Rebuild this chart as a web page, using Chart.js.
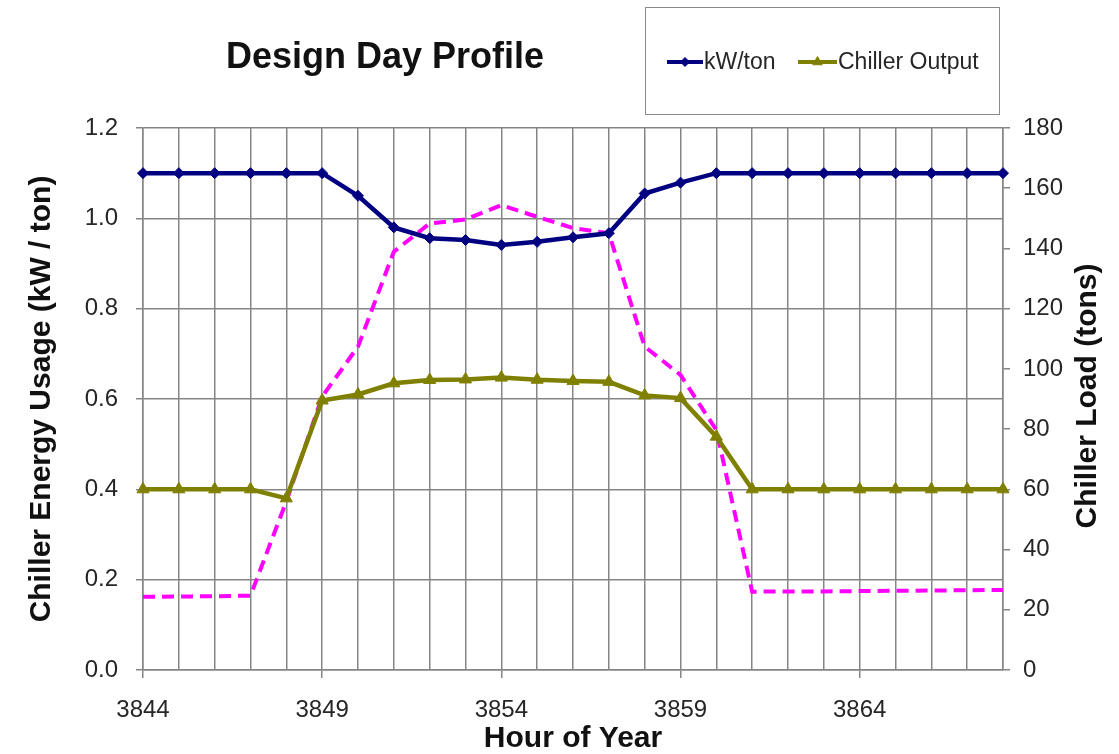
<!DOCTYPE html>
<html>
<head>
<meta charset="utf-8">
<title>Design Day Profile</title>
<script src="https://cdn.jsdelivr.net/npm/chart.js@4.4.1/dist/chart.umd.min.js"></script>
<style>
  html, body { margin: 0; padding: 0; background: #ffffff; }
  #wrap { position: relative; width: 1119px; height: 754px; }
</style>
</head>
<body>
<div id="wrap"><canvas id="chart"></canvas></div>
<script>
// Hour-of-year categories along the x axis
const hours = [3844, 3845, 3846, 3847, 3848, 3849, 3850, 3851, 3852, 3853, 3854, 3855, 3856,
               3857, 3858, 3859, 3860, 3861, 3862, 3863, 3864, 3865, 3866, 3867, 3868];

// Chiller efficiency (kW per ton), left axis
const kwPerTon = [1.10, 1.10, 1.10, 1.10, 1.10, 1.10, 1.05, 0.98, 0.956, 0.952, 0.941, 0.948, 0.958,
                  0.967, 1.055, 1.079, 1.10, 1.10, 1.10, 1.10, 1.10, 1.10, 1.10, 1.10, 1.10];

// Chiller output (tons), right axis
const chillerOutput = [60, 60, 60, 60, 57, 89.5, 91.5, 95.2, 96.3, 96.5, 97.1, 96.4, 96,
                       95.7, 91.2, 90.3, 77.5, 60, 60, 60, 60, 60, 60, 60, 60];

// Building cooling load (tons), right axis, dashed
const chillerLoad = [24.3, 24.4, 24.5, 24.7, 56, 90.8, 107.4, 138.9, 148.3, 149.6, 154.4, 150.5, 146.8,
                     145, 107.4, 98, 79.7, 26, 26.1, 26.1, 26.2, 26.3, 26.4, 26.5, 26.6];

// Axis tick values
const leftTicks = [0, 0.2, 0.4, 0.6, 0.8, 1.0, 1.2];
const rightTicks = [0, 20, 40, 60, 80, 100, 120, 140, 160, 180];

const FONT = "'Liberation Sans', Arial, Helvetica, sans-serif";
const GRID = '#858585';
const TEXT = '#262626';

// Title, boxed legend and right-hand axis title
const decorations = {
  id: 'decorations',
  afterDraw(chart) {
    const ctx = chart.ctx;
    ctx.save();

    // Chart title
    ctx.fillStyle = '#111';
    ctx.font = 'bold 36px ' + FONT;
    ctx.textAlign = 'center';
    ctx.textBaseline = 'alphabetic';
    ctx.fillText('Design Day Profile', 385, 68);

    // Legend frame
    ctx.strokeStyle = '#8a8a8a';
    ctx.lineWidth = 1;
    ctx.strokeRect(645.5, 7.5, 354, 107);

    // Legend entries (first two datasets)
    const entries = [
      { ds: chart.data.datasets[0], x0: 667, x1: 703, tx: 704, r: 4.5 },
      { ds: chart.data.datasets[1], x0: 798, x1: 837, tx: 838, r: 5.5 }
    ];
    const ly = 62;
    ctx.font = '23px ' + FONT;
    ctx.textAlign = 'left';
    ctx.textBaseline = 'middle';
    entries.forEach(e => {
      ctx.strokeStyle = e.ds.borderColor;
      ctx.lineWidth = 4;
      ctx.beginPath();
      ctx.moveTo(e.x0, ly);
      ctx.lineTo(e.x1, ly);
      ctx.stroke();
      ctx.fillStyle = e.ds.borderColor;
      ctx.lineWidth = 1;
      Chart.helpers.drawPoint(ctx, {
        pointStyle: e.ds.pointStyle,
        radius: e.r,
        borderWidth: 1
      }, (e.x0 + e.x1) / 2, ly);
      ctx.fillStyle = TEXT;
      ctx.fillText(e.ds.label, e.tx, ly + 1);
    });

    // Right axis title, reading bottom to top
    ctx.save();
    ctx.translate(1088, 396);
    ctx.rotate(-Math.PI / 2);
    ctx.font = 'bold 30px ' + FONT;
    ctx.fillStyle = '#111';
    ctx.textAlign = 'center';
    ctx.textBaseline = 'middle';
    ctx.fillText('Chiller Load (tons)', 0, 0);
    ctx.restore();

    ctx.restore();
  }
};

new Chart(document.getElementById('chart'), {
  type: 'line',
  data: {
    labels: hours,
    datasets: [
      {
        label: 'kW/ton',
        data: kwPerTon,
        yAxisID: 'y',
        borderColor: '#000080',
        backgroundColor: '#000080',
        borderWidth: 4.5,
        pointStyle: 'rectRot',
        pointRadius: 5.5,
        pointBorderWidth: 1,
        pointBackgroundColor: '#000080',
        pointBorderColor: '#000080',
        tension: 0
      },
      {
        label: 'Chiller Output',
        data: chillerOutput,
        yAxisID: 'y1',
        borderColor: '#808000',
        backgroundColor: '#808000',
        borderWidth: 4.5,
        pointStyle: 'triangle',
        pointRadius: 7,
        pointBorderWidth: 1,
        pointBackgroundColor: '#808000',
        pointBorderColor: '#808000',
        tension: 0
      },
      {
        label: 'Chiller Load',
        data: chillerLoad,
        yAxisID: 'y1',
        borderColor: '#ff00ff',
        backgroundColor: '#ff00ff',
        borderWidth: 4,
        borderDash: [12, 7],
        pointRadius: 0,
        tension: 0
      }
    ]
  },
  options: {
    responsive: true,
    maintainAspectRatio: false,
    animation: false,
    layout: { padding: { top: 128, left: 0, right: 0, bottom: 0 } },
    plugins: {
      legend: { display: false },
      title: { display: false },
      tooltip: { enabled: false }
    },
    scales: {
      x: {
        type: 'category',
        offset: false,
        grid: {
          color: GRID,
          lineWidth: 1.5,
          tickLength: 8,
          tickColor: (c) => (c.index % 5 === 0 ? GRID : 'rgba(0,0,0,0)')
        },
        border: { color: GRID, width: 1.5 },
        ticks: {
          autoSkip: false,
          maxRotation: 0,
          minRotation: 0,
          padding: 18,
          color: TEXT,
          font: { family: FONT, size: 24 },
          callback: function (value, index) {
            return index % 5 === 0 ? String(hours[index]) : '';
          }
        },
        title: {
          display: true,
          text: 'Hour of Year',
          color: '#111',
          font: { family: FONT, size: 30, weight: 'bold', lineHeight: 1.0 },
          padding: { top: 0, bottom: 0 }
        },
        afterFit(scale) { scale.height = 84; }
      },
      y: {
        position: 'left',
        min: leftTicks[0],
        max: leftTicks[leftTicks.length - 1],
        afterBuildTicks(scale) { scale.ticks = leftTicks.map(v => ({ value: v })); },
        grid: { color: GRID, lineWidth: 1.5, tickLength: 7 },
        border: { color: GRID, width: 1.5 },
        ticks: {
          padding: 18,
          color: TEXT,
          font: { family: FONT, size: 24 },
          callback: (v) => Number(v).toFixed(1)
        },
        title: {
          display: true,
          text: 'Chiller Energy Usage (kW / ton)',
          color: '#111',
          font: { family: FONT, size: 30, weight: 'bold' },
          padding: { top: 24, bottom: 0 }
        },
        afterFit(scale) { scale.width = 143; }
      },
      y1: {
        position: 'right',
        min: rightTicks[0],
        max: rightTicks[rightTicks.length - 1],
        afterBuildTicks(scale) { scale.ticks = rightTicks.map(v => ({ value: v })); },
        grid: { drawOnChartArea: false, color: GRID, lineWidth: 1.5, tickLength: 7 },
        border: { color: GRID, width: 1.5 },
        ticks: {
          padding: 13,
          color: TEXT,
          font: { family: FONT, size: 24 }
        },
        afterFit(scale) { scale.width = 116; }
      }
    }
  },
  plugins: [decorations]
});
</script>
</body>
</html>
